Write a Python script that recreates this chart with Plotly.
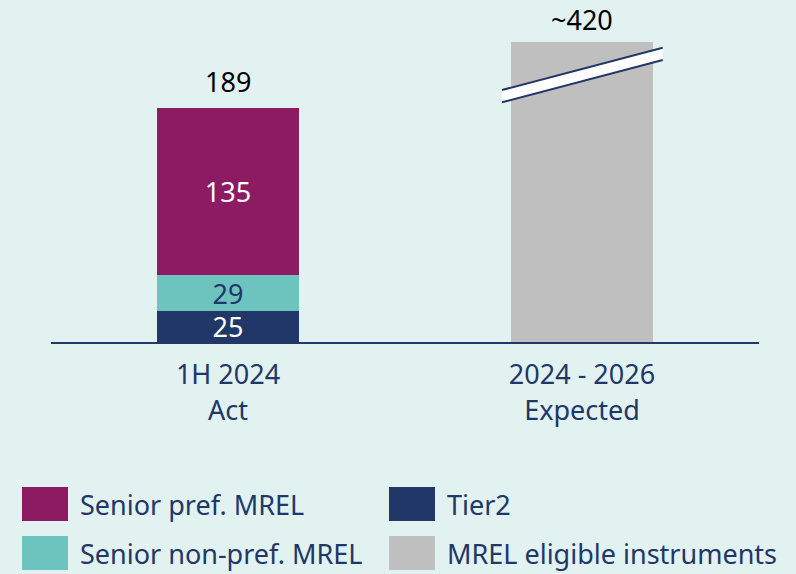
import plotly.graph_objects as go

# MREL stack, EUR bn
categories = ["1H 2024<br>Act", "2024 - 2026<br>Expected"]
tier2 = [25, None]
senior_non_pref = [29, None]
senior_pref = [135, None]
mrel_eligible = [None, 420]
eligible_label = "~420"

series = [
    ("Tier2", tier2, "#213767", "white"),
    ("Senior non-pref. MREL", senior_non_pref, "#6dc4be", "#213767"),
    ("Senior pref. MREL", senior_pref, "#8c1b62", "white"),
]
gray_name, gray_color = "MREL eligible instruments", "#bfbfbf"

NAVY = "#213767"
BG = "#e2f2f1"
FONT = "Noto Sans"
FS = 27

fig = go.Figure()
for name, vals, color, tcolor in series:
    fig.add_trace(go.Bar(
        x=categories, y=vals, name=name, marker_color=color,
        marker_line_width=0,
        text=[str(v) if v is not None else "" for v in vals],
        textposition="inside", insidetextanchor="middle",
        constraintext="none", textangle=0,
        textfont=dict(family=FONT, size=FS, color=tcolor),
        hoverinfo="skip",
    ))
fig.add_trace(go.Bar(
    x=categories, y=mrel_eligible, name=gray_name, marker_color=gray_color,
    marker_line_width=0, hoverinfo="skip",
))

# axis truncated: taller bar is cut at the top of the plot
y_top = 241.9

# stack total above the first bar
total = sum(v for _, vals, _, _ in series for v in [vals[0]])
annotations = [
    dict(x=categories[0], y=total, xref="x", yref="y", text=str(total),
         showarrow=False, yanchor="bottom", yshift=6,
         font=dict(family=FONT, size=FS, color="black")),
    dict(x=categories[1], y=1, xref="x", yref="paper", text=eligible_label,
         showarrow=False, yanchor="bottom", yshift=2,
         font=dict(family=FONT, size=FS, color="black")),
]

# axis-break marker across the truncated bar
bx0, bx1 = 0.637, 0.864
up0, up1 = 0.840, 0.981
lo0, lo1 = 0.799, 0.940
shapes = [
    dict(type="path", xref="paper", yref="paper",
         path=f"M {bx0},{up0} L {bx1},{up1} L {bx1},{lo1} L {bx0},{lo0} Z",
         fillcolor="white", line=dict(width=0)),
    dict(type="line", xref="paper", yref="paper", x0=bx0, y0=up0, x1=bx1, y1=up1,
         line=dict(color=NAVY, width=2)),
    dict(type="line", xref="paper", yref="paper", x0=bx0, y0=lo0, x1=bx1, y1=lo1,
         line=dict(color=NAVY, width=2)),
]

# custom legend, two columns
legend_items = [
    (series[2][0], series[2][2]), (series[1][0], series[1][2]),
    (series[0][0], series[0][2]), (gray_name, gray_color),
]
W, H = 796, 574
ml, mr, mt, mb = 51, 37, 42, 232
pw, ph = W - ml - mr, H - mt - mb
def px_x(p):
    return (p - ml) / pw
def px_y(p):
    return (H - mb - p) / ph
cols = [22, 389]
rows = [487, 536]
sw, sh = 46, 34
for i, (name, color) in enumerate(legend_items):
    cx, ry = cols[i // 2], rows[i % 2]
    shapes.append(dict(type="rect", xref="paper", yref="paper",
                       x0=px_x(cx), x1=px_x(cx + sw), y0=px_y(ry + sh), y1=px_y(ry),
                       fillcolor=color, line=dict(width=0)))
    annotations.append(dict(x=px_x(cx + sw + 10), y=px_y(ry + sh / 2), xref="paper", yref="paper",
                            text=name, showarrow=False, xanchor="left", yanchor="middle",
                            font=dict(family=FONT, size=FS, color=NAVY)))

fig.update_layout(
    width=W, height=H,
    margin=dict(l=ml, r=mr, t=mt, b=mb),
    paper_bgcolor=BG, plot_bgcolor=BG,
    barmode="stack", bargap=0.6,
    showlegend=False,
    annotations=annotations, shapes=shapes,
    xaxis=dict(showline=True, linecolor=NAVY, linewidth=2, ticks="",
               tickfont=dict(family=FONT, size=FS, color=NAVY),
               showgrid=False, zeroline=False, ticklabelstandoff=8),
    yaxis=dict(range=[0, y_top], visible=False, showgrid=False, zeroline=False),
)

fig.write_html("out.html")
